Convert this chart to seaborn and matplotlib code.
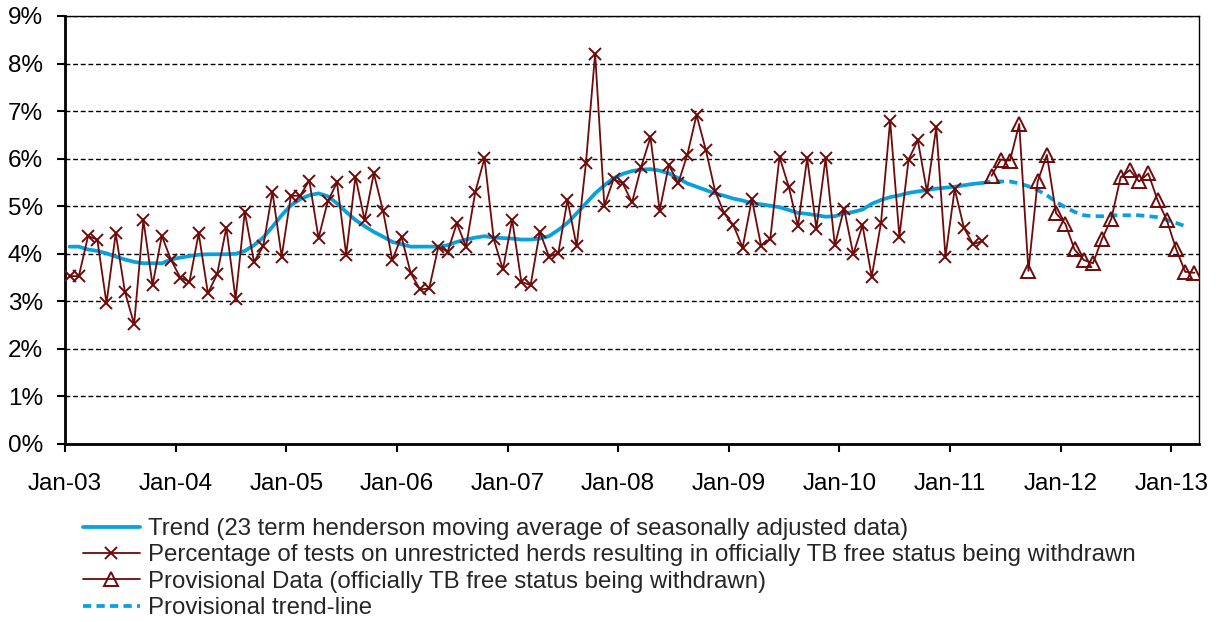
import numpy as np
import pandas as pd
import matplotlib
matplotlib.use("Agg")
import matplotlib.pyplot as plt
import seaborn as sns
from matplotlib.ticker import MultipleLocator, FuncFormatter

# ---------------- data ----------------
# Monthly % of tests on unrestricted herds resulting in OTF status withdrawn, Jan-03 .. Apr-11
pct = [3.53, 3.53, 4.37, 4.30, 2.96, 4.43, 3.20, 2.52, 4.71, 3.34, 4.38, 3.87,
       3.50, 3.41, 4.43, 3.17, 3.57, 4.55, 3.05, 4.88, 3.83, 4.16, 5.30, 3.94,
       5.22, 5.22, 5.54, 4.33, 5.10, 5.50, 3.98, 5.62, 4.71, 5.69, 4.90, 3.87,
       4.36, 3.59, 3.25, 3.27, 4.15, 4.04, 4.64, 4.15, 5.30, 6.01, 4.31, 3.67,
       4.72, 3.41, 3.34, 4.46, 3.94, 4.01, 5.13, 4.16, 5.90, 8.21, 5.01, 5.57,
       5.48, 5.08, 5.83, 6.45, 4.91, 5.87, 5.48, 6.08, 6.92, 6.19, 5.33, 4.85,
       4.60, 4.13, 5.15, 4.17, 4.32, 6.04, 5.41, 4.58, 6.01, 4.53, 6.01, 4.18,
       4.95, 3.99, 4.60, 3.52, 4.64, 6.80, 4.36, 5.98, 6.39, 5.30, 6.66, 3.94,
       5.36, 4.55, 4.20, 4.27]
pct_start = "2003-01"

# Provisional data, May-11 .. Mar-13
prov = [5.64, 5.98, 5.96, 6.73, 3.64, 5.52, 6.08, 4.85, 4.63, 4.09, 3.87, 3.80,
        4.32, 4.74, 5.61, 5.76, 5.52, 5.69, 5.13, 4.71, 4.11, 3.62, 3.60]
prov_start = "2011-05"

# Trend (23 term Henderson moving average), Jan-03 .. Apr-11
trend = [4.15, 4.15, 4.09, 4.06, 4.01, 3.94, 3.88, 3.83, 3.80, 3.80, 3.80, 3.88,
         3.92, 3.95, 3.98, 3.99, 3.99, 3.99, 4.00, 4.06, 4.18, 4.34, 4.57, 4.81,
         5.02, 5.15, 5.23, 5.27, 5.21, 5.06, 4.88, 4.71, 4.58, 4.46, 4.36, 4.25,
         4.20, 4.15, 4.15, 4.15, 4.15, 4.18, 4.25, 4.30, 4.34, 4.37, 4.34, 4.33,
         4.32, 4.30, 4.30, 4.32, 4.37, 4.50, 4.65, 4.85, 5.06, 5.27, 5.44, 5.59,
         5.68, 5.74, 5.77, 5.78, 5.75, 5.69, 5.59, 5.48, 5.41, 5.34, 5.27, 5.22,
         5.16, 5.12, 5.06, 5.04, 5.01, 4.98, 4.92, 4.86, 4.84, 4.81, 4.78, 4.79,
         4.85, 4.88, 4.93, 5.05, 5.13, 5.19, 5.23, 5.28, 5.31, 5.34, 5.37, 5.39,
         5.41, 5.44, 5.47, 5.49]
trend_start = "2003-01"

# Provisional trend-line, Apr-11 .. Feb-13
prov_trend = [5.49, 5.52, 5.52, 5.52, 5.48, 5.42, 5.34, 5.23, 5.09, 4.98, 4.88, 4.81,
              4.79, 4.79, 4.81, 4.81, 4.81, 4.81, 4.79, 4.77, 4.71, 4.65, 4.58]
prov_trend_start = "2011-04"

tick_labels = ["Jan-03", "Jan-04", "Jan-05", "Jan-06", "Jan-07", "Jan-08",
               "Jan-09", "Jan-10", "Jan-11", "Jan-12", "Jan-13"]

series_labels = [
    "Trend (23 term henderson moving average of seasonally adjusted data)",
    "Percentage of tests on unrestricted herds resulting in officially TB free status being withdrawn",
    "Provisional Data (officially TB free status being withdrawn)",
    "Provisional trend-line",
]

# ---------------- helpers ----------------
origin = pd.Period("2003-01", "M")


def frame(values, first):
    p0 = pd.Period(first, "M")
    m = [(p0 + k - origin).n for k in range(len(values))]
    return pd.DataFrame({"month": m, "value": values})


df_pct = frame(pct, pct_start)
df_prov = frame(prov, prov_start)
df_trend = frame(trend, trend_start)
df_ptrend = frame(prov_trend, prov_trend_start)

# ---------------- style ----------------
sns.set_style("white")
plt.rcParams["font.family"] = ["Liberation Sans", "DejaVu Sans"]

BLUE = "#0AA0DC"
DARK = "#6E0A0A"

W, H = 1226, 622
fig = plt.figure(figsize=(W / 100, H / 100), dpi=100)
ax = fig.add_axes([65 / W, 1 - 444 / H, (1199 - 65) / W, (444 - 16) / H])

sns.lineplot(data=df_trend, x="month", y="value", ax=ax, color=BLUE, lw=2.7,
             label=series_labels[0], zorder=2)
sns.lineplot(data=df_pct, x="month", y="value", ax=ax, color=DARK, lw=1.3,
             marker="x", markersize=8.5, markeredgewidth=1.4,
             markeredgecolor=DARK, label=series_labels[1], zorder=3)
sns.lineplot(data=df_prov, x="month", y="value", ax=ax, color=DARK, lw=1.3,
             marker="^", markersize=10, markeredgewidth=1.4,
             markeredgecolor=DARK, markerfacecolor="none",
             label=series_labels[2], zorder=3)
sns.lineplot(data=df_ptrend, x="month", y="value", ax=ax, color=BLUE, lw=2.7,
             linestyle=(0, (2.2, 1.4)), label=series_labels[3], zorder=2)

# axes
n_months = len(pct) + len(prov)
ax.set_xlim(-0.5, n_months - 0.5)
ax.set_ylim(0, 9)
ax.set_xticks([-0.5 + 12 * k for k in range(len(tick_labels))])
ax.set_xticklabels(tick_labels)
ax.yaxis.set_major_locator(MultipleLocator(1))
ax.yaxis.set_major_formatter(FuncFormatter(lambda v, p: f"{v:.0f}%"))
ax.set_xlabel("")
ax.set_ylabel("")

ax.yaxis.grid(True, color="black", linestyle=(0, (3.5, 2.0)), lw=1.0)
ax.xaxis.grid(False)
ax.set_axisbelow(True)

for side in ["left", "bottom"]:
    ax.spines[side].set_color("black")
    ax.spines[side].set_linewidth(2.0)
for side in ["top", "right"]:
    ax.spines[side].set_color("black")
    ax.spines[side].set_linewidth(1.0)

ax.tick_params(axis="x", direction="out", length=6, width=1.5, pad=15,
               labelsize=17.5, colors="black", bottom=True)
ax.tick_params(axis="y", direction="out", length=6, width=1.5, pad=10,
               labelsize=17.5, colors="black", left=True)

# legend
handles, labels = ax.get_legend_handles_labels()
ax.get_legend().remove()
fig.legend(handles, labels, loc="upper left",
           bbox_to_anchor=(83 / W, 1 - 518 / H), frameon=False,
           fontsize=17.3, borderpad=0, labelspacing=0.18,
           handlelength=2.37, handletextpad=0.33, borderaxespad=0)

fig.savefig("out.png", dpi=100)
